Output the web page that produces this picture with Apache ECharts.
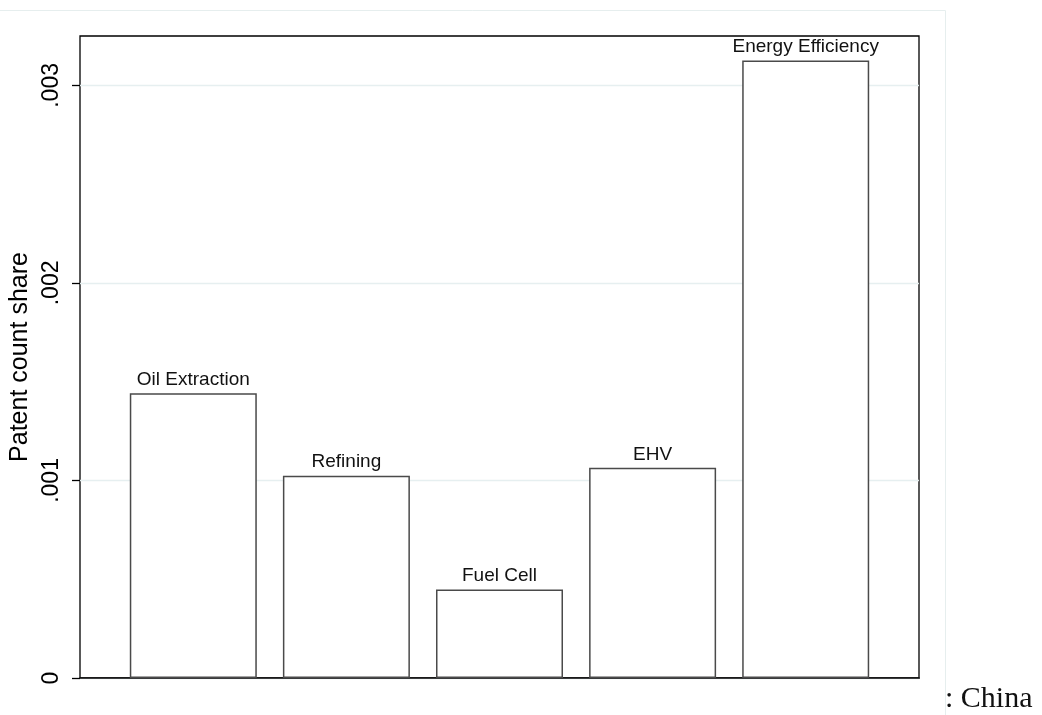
<!DOCTYPE html>
<html>
<head>
<meta charset="utf-8">
<script src="https://cdn.jsdelivr.net/npm/echarts@6/dist/echarts.min.js"></script>
<style>
  html, body { margin: 0; padding: 0; background: #fff; }
  #chart { width: 1042px; height: 715px; }
</style>
</head>
<body>
<div id="chart"></div>
<script>
// Patent count share by technology field
const categories = ['Oil Extraction', 'Refining', 'Fuel Cell', 'EHV', 'Energy Efficiency'];
const shares = [0.001441, 0.001024, 0.000448, 0.001064, 0.003126];
const yTicks = [0, 0.001, 0.002, 0.003];
const yTickLabels = ['0', '.001', '.002', '.003'];

const chart = echarts.init(document.getElementById('chart'), null, { renderer: 'canvas' });

// bars sit at positions 1..5 on a numeric x scale
const barData = shares.map((v, i) => ({ value: [i + 1, v], name: categories[i] }));

chart.setOption({
  backgroundColor: '#ffffff',
  animation: false,
  grid: {
    left: 80, top: 36, width: 839, height: 642,
    show: true, borderColor: '#000', borderWidth: 1.3, backgroundColor: 'transparent'
  },
  xAxis: {
    type: 'value', min: 0.26, max: 5.74,
    axisLine: { show: true, lineStyle: { color: '#000', width: 1.5 } },
    axisTick: { show: false }, axisLabel: { show: false }, splitLine: { show: false }
  },
  yAxis: {
    type: 'value', min: 0, max: 0.00325,
    name: 'Patent count share', nameLocation: 'middle', nameRotate: 90, nameGap: 47,
    nameMoveOverlap: false,
    nameTextStyle: { fontFamily: 'Liberation Sans', fontSize: 25, color: '#000' },
    axisLine: { show: false },
    axisTick: { show: true, length: 8, customValues: yTicks, lineStyle: { color: '#000', width: 1.3 } },
    axisLabel: {
      rotate: 90, margin: 17, fontFamily: 'Liberation Sans', fontSize: 23, color: '#000',
      customValues: yTicks,
      formatter: v => {
        const idx = yTicks.findIndex(t => Math.abs(t - v) < 1e-9);
        return idx >= 0 ? yTickLabels[idx] : '';
      }
    },
    splitLine: { show: true, lineStyle: { color: '#e6eff0', width: 1.3 } }
  },
  series: [{
    type: 'bar',
    data: barData,
    barWidth: 127,
    itemStyle: { color: '#ffffff', borderColor: '#4a4a4a', borderWidth: 1.5 },
    label: {
      show: true, position: 'top', distance: 4,
      fontFamily: 'Liberation Sans', fontSize: 19, color: '#111',
      formatter: p => p.name
    }
  }],
  graphic: [
    { type: 'line', silent: true, shape: { x1: 0, y1: 10.5, x2: 945.5, y2: 10.5 },
      style: { stroke: '#e6eeee', lineWidth: 1 } },
    { type: 'line', silent: true, shape: { x1: 945.5, y1: 10.5, x2: 945.5, y2: 715 },
      style: { stroke: '#e6eeee', lineWidth: 1 } },
    { type: 'text', left: 945, top: 684,
      style: { text: ': China', fontFamily: 'Liberation Serif', fontSize: 30, fill: '#111' } }
  ]
});
</script>
</body>
</html>
